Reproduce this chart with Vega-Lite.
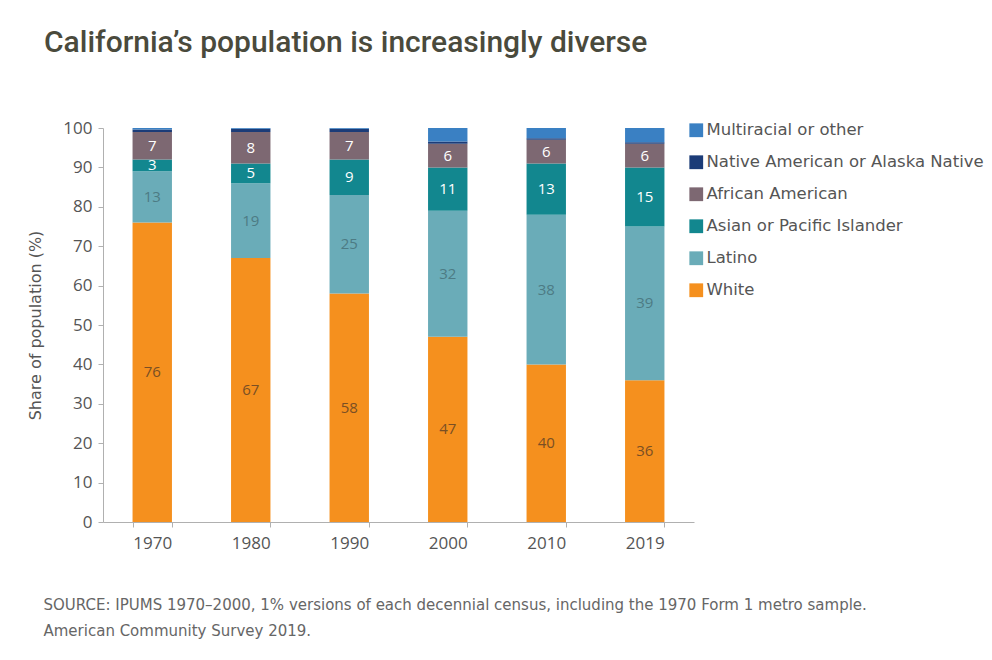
{
  "$schema": "https://vega.github.io/schema/vega-lite/v6.json",
  "width": 591,
  "height": 394,
  "autosize": {"type": "none"},
  "padding": {"left": 103, "top": 128, "right": 298, "bottom": 138},
  "background": "white",
  "title": {
    "text": "California’s population is increasingly diverse",
    "anchor": "start",
    "frame": "group",
    "dx": -59,
    "offset": 61,
    "font": "Roboto",
    "fontSize": 30,
    "fontWeight": 500,
    "color": "#4a4a3c"
  },
  "data": {
    "values": [
      {"year": "1970", "race": "White", "value": 76},
      {"year": "1970", "race": "Latino", "value": 13},
      {"year": "1970", "race": "Asian or Pacific Islander", "value": 3},
      {"year": "1970", "race": "African American", "value": 7},
      {"year": "1970", "race": "Native American or Alaska Native", "value": 0.6},
      {"year": "1970", "race": "Multiracial or other", "value": 0.4},
      {"year": "1980", "race": "White", "value": 67},
      {"year": "1980", "race": "Latino", "value": 19},
      {"year": "1980", "race": "Asian or Pacific Islander", "value": 5},
      {"year": "1980", "race": "African American", "value": 8},
      {"year": "1980", "race": "Native American or Alaska Native", "value": 0.8},
      {"year": "1980", "race": "Multiracial or other", "value": 0.2},
      {"year": "1990", "race": "White", "value": 58},
      {"year": "1990", "race": "Latino", "value": 25},
      {"year": "1990", "race": "Asian or Pacific Islander", "value": 9},
      {"year": "1990", "race": "African American", "value": 7},
      {"year": "1990", "race": "Native American or Alaska Native", "value": 0.8},
      {"year": "1990", "race": "Multiracial or other", "value": 0.2},
      {"year": "2000", "race": "White", "value": 47},
      {"year": "2000", "race": "Latino", "value": 32},
      {"year": "2000", "race": "Asian or Pacific Islander", "value": 11},
      {"year": "2000", "race": "African American", "value": 6},
      {"year": "2000", "race": "Native American or Alaska Native", "value": 0.6},
      {"year": "2000", "race": "Multiracial or other", "value": 3.4},
      {"year": "2010", "race": "White", "value": 40},
      {"year": "2010", "race": "Latino", "value": 38},
      {"year": "2010", "race": "Asian or Pacific Islander", "value": 13},
      {"year": "2010", "race": "African American", "value": 6},
      {"year": "2010", "race": "Native American or Alaska Native", "value": 0.4},
      {"year": "2010", "race": "Multiracial or other", "value": 2.6},
      {"year": "2019", "race": "White", "value": 36},
      {"year": "2019", "race": "Latino", "value": 39},
      {"year": "2019", "race": "Asian or Pacific Islander", "value": 15},
      {"year": "2019", "race": "African American", "value": 6},
      {"year": "2019", "race": "Native American or Alaska Native", "value": 0.4},
      {"year": "2019", "race": "Multiracial or other", "value": 3.6}
    ]
  },
  "transform": [
    {"calculate": "indexof(['White','Latino','Asian or Pacific Islander','African American','Native American or Alaska Native','Multiracial or other'], datum.race)", "as": "rank"},
    {"stack": "value", "groupby": ["year"], "sort": [{"field": "rank", "order": "ascending"}], "as": ["y0", "y1"]},
    {"calculate": "(datum.y0 + datum.y1) / 2", "as": "mid"}
  ],
  "encoding": {
    "x": {
      "field": "year",
      "type": "ordinal",
      "scale": {"paddingInner": 0.6, "paddingOuter": 0.3},
      "axis": {
        "labelAngle": 0,
        "labelFont": "Open Sans",
        "labelFontSize": 17,
        "labelColor": "#555555",
        "labelPadding": 8,
        "tickBand": "extent",
        "tickSize": 5,
        "tickColor": "#b0b0b0",
        "domainColor": "#b0b0b0",
        "title": ["SOURCE: IPUMS 1970–2000, 1% versions of each decennial census, including the 1970 Form 1 metro sample.", "American Community Survey 2019."],
        "titleAnchor": "start",
        "titleAlign": "left",
        "titleBaseline": "top",
        "titleX": -60,
        "titleY": 75,
        "titleFont": "DejaVu Sans",
        "titleFontSize": 15,
        "titleFontWeight": "normal",
        "titleColor": "#666666",
        "titleLineHeight": 26,
        "titleLimit": 0
      }
    }
  },
  "layer": [
    {
      "mark": {"type": "bar"},
      "encoding": {
        "y": {
          "field": "y0",
          "type": "quantitative",
          "scale": {"domain": [0, 100], "nice": false},
          "axis": {
            "values": [0, 10, 20, 30, 40, 50, 60, 70, 80, 90, 100],
            "labelOverlap": false,
            "grid": false,
            "labelFont": "Open Sans",
            "labelFontSize": 17,
            "labelColor": "#555555",
            "labelPadding": 6,
            "tickSize": 5,
            "tickColor": "#b0b0b0",
            "domainColor": "#b0b0b0",
            "title": "Share of population (%)",
            "titleFont": "DejaVu Sans",
            "titleFontSize": 16,
            "titleFontWeight": "normal",
            "titleColor": "#555555",
            "titleX": -68,
            "titleY": 197,
            "titleBaseline": "middle",
            "titleAlign": "center"
          }
        },
        "y2": {"field": "y1"},
        "color": {
          "field": "race",
          "type": "nominal",
          "scale": {
            "domain": ["Multiracial or other", "Native American or Alaska Native", "African American", "Asian or Pacific Islander", "Latino", "White"],
            "range": ["#3a80c3", "#1c3c78", "#7d6872", "#12878f", "#6aacb8", "#f5901e"]
          },
          "legend": {
            "title": null,
            "orient": "none",
            "legendX": 585,
            "legendY": -6,
            "symbolType": "square",
            "symbolSize": 190,
            "symbolStrokeWidth": 0,
            "labelFont": "DejaVu Sans",
            "labelFontSize": 16.5,
            "labelColor": "#555555",
            "labelOffset": 2,
            "labelLimit": 0,
            "rowPadding": 15
          }
        }
      }
    },
    {
      "transform": [{"filter": "datum.rank <= 3"}],
      "mark": {"type": "text", "font": "Open Sans", "fontSize": 15, "baseline": "middle"},
      "encoding": {
        "y": {
          "field": "mid",
          "type": "quantitative",
          "axis": {
            "values": [0, 10, 20, 30, 40, 50, 60, 70, 80, 90, 100],
            "labelOverlap": false,
            "grid": false,
            "labelFont": "Open Sans",
            "labelFontSize": 17,
            "labelColor": "#555555",
            "labelPadding": 6,
            "tickSize": 5,
            "tickColor": "#b0b0b0",
            "domainColor": "#b0b0b0",
            "title": "Share of population (%)",
            "titleFont": "DejaVu Sans",
            "titleFontSize": 16,
            "titleFontWeight": "normal",
            "titleColor": "#555555",
            "titleX": -68,
            "titleY": 197,
            "titleBaseline": "middle",
            "titleAlign": "center"
          }
        },
        "text": {"field": "value", "type": "quantitative"},
        "color": {
          "condition": [
            {"test": "datum.rank >= 2", "value": "white"},
            {"test": "datum.rank == 1", "value": "#4d7b84"}
          ],
          "value": "#7a4f24"
        }
      }
    }
  ],
  "config": {"view": {"stroke": null}}
}
